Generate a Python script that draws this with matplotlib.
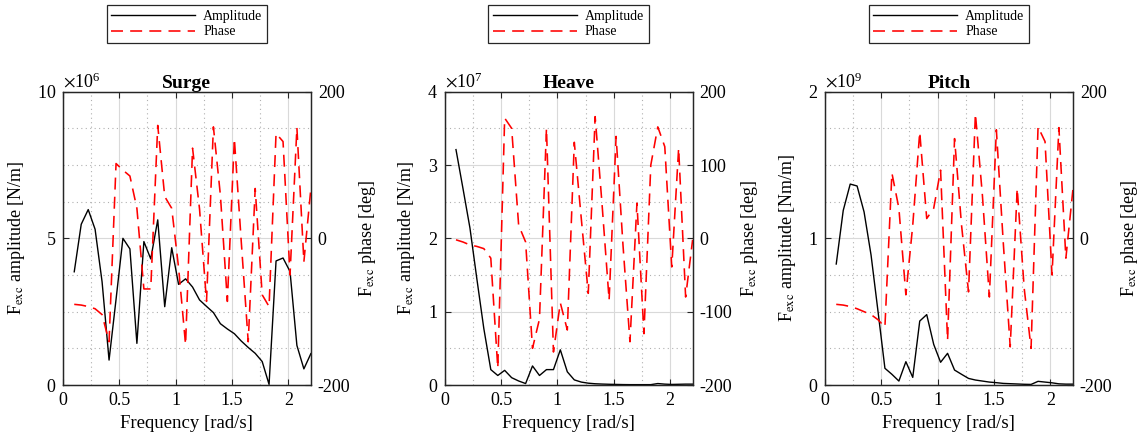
import matplotlib
matplotlib.use("Agg")
import matplotlib.pyplot as plt
from matplotlib.ticker import MultipleLocator, ScalarFormatter, FormatStrFormatter
from matplotlib.lines import Line2D

plt.rcParams["font.family"] = ["Liberation Serif", "DejaVu Serif"]
plt.rcParams["mathtext.fontset"] = "stix"
plt.rcParams["axes.unicode_minus"] = False

# frequency grid [rad/s]
freq = [0.100, 0.162, 0.224, 0.285, 0.347, 0.409, 0.471, 0.532, 0.594, 0.656,
        0.718, 0.779, 0.841, 0.903, 0.965, 1.026, 1.088, 1.150, 1.212, 1.274,
        1.335, 1.397, 1.459, 1.521, 1.582, 1.644, 1.706, 1.768, 1.829, 1.891,
        1.953, 2.015, 2.076, 2.138, 2.200]

# surge (amplitude in 1e6 N/m, phase in deg)
surge_amp = [3.86, 5.48, 5.98, 5.31, 3.52, 0.85, 2.92, 5.00, 4.64, 1.42,
             4.89, 4.30, 5.63, 2.67, 4.68, 3.43, 3.62, 3.34, 2.90, 2.68,
             2.47, 2.09, 1.91, 1.75, 1.50, 1.28, 1.08, 0.80, 0.02, 4.23,
             4.33, 3.87, 1.35, 0.55, 1.07]
surge_phase = [-90, -91, -93, -96, -104, -141, 102, 93, 85, 41,
               -69, -69, 154, 57, 41, -40, -145, 123, 40, -86,
               152, 59, -86, 136, -4, -141, 68, -77, -93, 143,
               132, -50, 151, -32, 68]

# heave (amplitude in 1e7 N/m)
heave_amp = [3.21, 2.68, 2.14, 1.45, 0.77, 0.21, 0.13, 0.20, 0.10, 0.055,
             0.02, 0.26, 0.13, 0.21, 0.21, 0.48, 0.18, 0.07, 0.04, 0.025,
             0.017, 0.013, 0.01, 0.008, 0.006, 0.005, 0.005, 0.005, 0.005, 0.02,
             0.012, 0.008, 0.01, 0.012, 0.012]
heave_phase = [-2, -5, -9, -11, -14, -27, -177, 164, 150, 18,
               -5, -150, -110, 150, -155, -88, -125, 131, 27, -75,
               166, 45, -84, 139, -9, -141, 48, -130, 100, 152,
               125, -39, 123, -80, -2]

# pitch (amplitude in 1e9 Nm/m)
pitch_amp = [0.825, 1.19, 1.37, 1.357, 1.18, 0.886, 0.50, 0.114, 0.073, 0.027,
             0.159, 0.052, 0.436, 0.48, 0.277, 0.155, 0.216, 0.102, 0.073, 0.045,
             0.034, 0.027, 0.02, 0.016, 0.011, 0.009, 0.007, 0.005, 0.004, 0.025,
             0.02, 0.015, 0.008, 0.006, 0.006]
pitch_phase = [-90, -91, -93, -96, -100, -104, -111, -121, 89, 41,
               -77, 18, 145, 27, 41, 93, -139, 136, 18, -73,
               170, 59, -80, 148, -5, -148, 68, -68, -150, 152,
               132, -50, 151, -27, 66]

panels = [
    ("Surge", surge_amp, 6, surge_phase, "N/m", 10, 5, 1.25, [-200, 0, 200]),
    ("Heave", heave_amp, 7, heave_phase, "N/m", 4, 1, 0.5, [-200, -100, 0, 100, 200]),
    ("Pitch", pitch_amp, 9, pitch_phase, "Nm/m", 2, 1, 0.25, [-200, 0, 200]),
]
lefts = [0.055, 0.3884, 0.7205]
AX_C = "#262626"
DASH = (0, (7.5, 4.5))

fig = plt.figure(figsize=(11.45, 4.45), dpi=100)
for (name, amp, expo, phase, unit, ymax, ymaj, ymin_, rticks), left in zip(panels, lefts):
    scale = 10.0 ** expo
    ax = fig.add_axes([left, 0.1348, 0.2165, 0.6592])
    ax2 = ax.twinx()
    ax.plot(freq, [a * scale for a in amp], color="black", lw=1.0)
    ax2.plot(freq, phase, color="red", lw=1.15, ls=DASH)

    ax.set_xlim(0, 2.2)
    ax.set_ylim(0, ymax * scale)
    ax2.set_ylim(-200, 200)
    ax.xaxis.set_major_locator(MultipleLocator(0.5))
    ax.xaxis.set_minor_locator(MultipleLocator(0.25))
    ax.xaxis.set_major_formatter(FormatStrFormatter("%g"))
    ax.yaxis.set_major_locator(MultipleLocator(ymaj * scale))
    ax.yaxis.set_minor_locator(MultipleLocator(ymin_ * scale))
    ax2.set_yticks(rticks)
    fmt = ScalarFormatter(useMathText=True)
    fmt.set_powerlimits((expo, expo))
    ax.yaxis.set_major_formatter(fmt)
    ax.yaxis.get_offset_text().set_fontsize(13)

    ax.grid(which="major", color="#d9d9d9", lw=0.8, ls="-")
    ax.grid(which="minor", color="#b0b0b0", lw=0.8, ls=(0, (1, 3)))
    ax.set_axisbelow(True)
    ax.tick_params(which="major", direction="in", length=4, labelsize=13,
                   top=True, color=AX_C, pad=5)
    ax.tick_params(which="minor", length=0)
    ax2.tick_params(direction="in", length=4, labelsize=13, color=AX_C, pad=5)
    for a in (ax, ax2):
        for s in a.spines.values():
            s.set_color(AX_C)
            s.set_linewidth(0.9)

    ax.set_title(name, fontsize=14, fontweight="bold", pad=3)
    ax.set_xlabel("Frequency [rad/s]", fontsize=13.5, labelpad=4)
    ax.set_ylabel(r"F$_{\mathrm{exc}}$ amplitude [%s]" % unit, fontsize=13, labelpad=7)
    ax2.set_ylabel(r"F$_{\mathrm{exc}}$ phase [deg]", fontsize=13, labelpad=5)

    handles = [Line2D([], [], color="black", lw=1.0),
               Line2D([], [], color="red", lw=1.15, ls=DASH)]
    ax2.legend(handles, ["Amplitude", "Phase"], loc="upper center",
               bbox_to_anchor=(0.5, 1.296), fontsize=10, frameon=True,
               fancybox=False, edgecolor=AX_C, framealpha=1,
               handlelength=6.0, handletextpad=0.6, labelspacing=0.2,
               borderpad=0.35, borderaxespad=0)
    ax2.get_legend().get_frame().set_linewidth(0.9)

fig.savefig("out.png", dpi=100)
